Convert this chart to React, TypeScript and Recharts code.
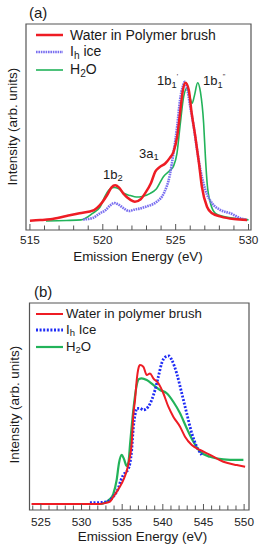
import React from 'react';
import { LineChart, Line, XAxis, YAxis, ReferenceArea } from 'recharts';

// panel (a): valence-band emission, pairs of [energy eV, intensity]
const aBrush = [
  [515.0, 4.5], [515.7, 4.8], [516.4, 5.2], [517.5, 6.8], [518.4, 8.1], [519.4, 9.7], [519.8, 12.1],
  [520.3, 17.0], [520.6, 20.7], [520.85, 21.7], [521.1, 20.7], [521.4, 17.8], [521.9, 14.6], [522.2, 13.7],
  [522.6, 14.9], [522.9, 17.8], [523.3, 22.7], [523.6, 28.3], [523.9, 30.5], [524.3, 32.4], [524.6, 35.0],
  [524.85, 37.9], [525.1, 45.3], [525.3, 56.7], [525.5, 68.0], [525.67, 71.5], [525.9, 68.0], [526.1, 56.7],
  [526.35, 45.3], [526.6, 32.4], [526.8, 21.0], [527.15, 11.3], [527.5, 8.1], [528.1, 6.5], [529.0, 5.3], [529.9, 4.9],
];
const aIce = [
  [518.65, 5.1], [519.3, 5.8], [519.8, 8.1], [520.2, 9.7], [520.5, 11.9], [520.8, 13.1], [521.06, 12.4],
  [521.4, 10.7], [521.8, 9.2], [522.2, 10.0], [522.6, 10.5], [523.0, 11.4], [523.3, 12.1], [523.7, 13.7],
  [524.2, 18.0], [524.6, 26.7], [524.86, 37.9], [525.1, 50.1], [525.3, 63.1], [525.5, 69.9], [525.62, 72.0],
  [525.78, 68.9], [526.0, 59.9], [526.24, 50.1], [526.47, 38.8], [526.7, 29.1], [527.04, 19.4], [527.5, 13.0],
  [528.07, 9.7], [528.76, 8.1], [529.45, 5.7], [529.9, 4.9],
];
const aGas = [
  [516.1, 4.4], [517.5, 4.6], [518.5, 4.9], [519.3, 8.1], [519.8, 11.0], [520.2, 17.0], [520.5, 19.9],
  [520.78, 20.6], [521.06, 20.1], [521.47, 17.7], [521.9, 16.7], [522.3, 16.0], [522.7, 16.3], [523.26, 17.8],
  [523.67, 19.9], [524.17, 26.0], [524.63, 29.1], [524.86, 31.1], [525.09, 37.2], [525.32, 51.8], [525.55, 64.7],
  [525.78, 68.9], [525.94, 65.5], [526.13, 61.5], [526.28, 65.0], [526.51, 71.5], [526.7, 67.0], [526.92, 51.8],
  [527.04, 35.6], [527.16, 22.7], [527.39, 13.0], [527.73, 8.1], [528.3, 6.5], [529.45, 5.3], [530.0, 4.9],
];

// panel (b)
const bBrush = [
  [523.85, 2.9], [532.27, 2.9], [533.09, 3.5], [533.5, 4.0], [533.9, 6.3], [534.32, 8.7], [534.73, 11.3],
  [535.22, 15.2], [535.59, 19.3], [535.84, 23.7], [536.17, 32.2], [536.37, 45.9], [536.58, 53.1], [536.79, 62.8],
  [537.01, 68.6], [537.19, 70.0], [537.6, 69.2], [538.02, 65.2], [538.42, 66.0], [538.83, 63.6], [539.45, 61.2],
  [540.06, 56.4], [540.68, 49.9], [541.29, 45.1], [542.12, 40.2], [542.73, 35.4], [543.56, 31.4], [544.58, 29.0],
  [545.81, 26.6], [547.45, 23.3], [549.1, 21.7], [550.12, 20.9],
];
const bIce = [
  [531.03, 3.5], [532.27, 3.6], [533.09, 4.0], [533.5, 4.8], [533.9, 6.4], [534.52, 10.5], [534.85, 14.5],
  [535.14, 16.9], [535.47, 18.4], [535.75, 19.8], [535.96, 22.7], [536.17, 29.0], [536.37, 39.6], [536.58, 45.9],
  [536.82, 49.1], [537.19, 49.1], [537.6, 48.3], [538.21, 49.9], [538.63, 53.1], [539.04, 58.0], [539.45, 64.4],
  [539.86, 70.9], [540.27, 73.8], [540.76, 74.4], [541.1, 72.5], [541.71, 66.0], [542.33, 56.4], [542.94, 46.7],
  [543.56, 37.1], [544.17, 30.6], [544.79, 26.6],
];
const bGas = [
  [530.21, 2.9], [532.27, 2.9], [532.88, 3.5], [533.5, 5.3], [533.9, 7.7], [534.32, 14.5], [534.61, 22.7],
  [534.94, 26.6], [535.22, 24.6], [535.55, 21.3], [535.78, 23.2], [535.96, 31.4], [536.37, 48.3], [536.79, 60.4],
  [537.07, 63.3], [537.4, 63.6], [538.02, 62.8], [538.83, 60.4], [539.66, 58.0], [540.48, 56.4], [541.29, 52.3],
  [542.12, 46.7], [542.94, 39.5], [543.76, 33.0], [544.58, 28.2], [545.81, 25.7], [547.45, 24.5], [549.1, 24.2],
  [549.91, 24.2],
];

const aTicks = [515, 516, 517, 518, 519, 520, 521, 522, 523, 524, 525, 526, 527, 528, 529, 530];
const bTicks = [524, 525, 526, 527, 528, 529, 530, 531, 532, 533, 534, 535, 536, 537, 538, 539, 540, 541, 542, 543, 544, 545, 546, 547, 548, 549, 550];

const FONT = "'Liberation Sans', Arial, sans-serif";
const RED = '#ee1c24';
const GREEN = '#22b35a';
const ICE_A = '#7a6ff0';
const ICE_B = '#1f2cf5';
const FRAME = '#555';

const toPts = (arr: number[][]) => arr.map(([e, i]) => ({ e, i }));

function makeTick(labelDy: number) {
  return (props: any) => {
    const { x, y, payload } = props;
    const v = payload.value;
    const major = v % 5 === 0;
    return (
      <g>
        <line x1={x} y1={y} x2={x} y2={y - (major ? 6 : 4.5)} stroke={FRAME} strokeWidth={1} />
        {major && (
          <text x={x} y={y + labelDy} textAnchor="middle" fontSize={11.8} fill="#222" fontFamily={FONT}>
            {v}
          </text>
        )}
      </g>
    );
  };
}

const legendLine = (color: string, width: number, dash?: string) => (
  <svg width={27} height={14} style={{ display: 'block' }}>
    <line x1={0} y1={7} x2={27} y2={7} stroke={color} strokeWidth={width} strokeDasharray={dash} />
  </svg>
);

export default function App() {
  const abs: React.CSSProperties = { position: 'absolute', fontFamily: FONT, color: '#1a1a1a', whiteSpace: 'nowrap', lineHeight: 1 };
  const sub: React.CSSProperties = { fontSize: '0.72em', verticalAlign: '-0.25em' };

  return (
    <div style={{ position: 'absolute', left: 0, top: 0, width: 266, height: 550, background: '#fff' }}>
      {/* panel a */}
      <div style={{ position: 'absolute', left: 0, top: 0 }}>
        <LineChart width={266} height={270} margin={{ top: 24, right: 15, bottom: 0, left: 26 }}>
          <XAxis type="number" dataKey="e" domain={[514.73, 530.17]} ticks={aTicks} interval={0}
            allowDataOverflow axisLine={false} tickLine={false} tickSize={0} tickMargin={0} height={40}
            tick={makeTick(14)} />
          <YAxis type="number" domain={[0, 100]} hide allowDataOverflow />
          <Line data={toPts(aGas)} dataKey="i" type="monotone" stroke={GREEN} strokeWidth={1.6} dot={false} isAnimationActive={false} />
          <Line data={toPts(aIce)} dataKey="i" type="monotone" stroke={ICE_A} strokeWidth={2.6} strokeDasharray="1.6 0.8" dot={false} isAnimationActive={false} />
          <Line data={toPts(aBrush)} dataKey="i" type="monotone" stroke={RED} strokeWidth={2.5} dot={false} isAnimationActive={false} />
          <ReferenceArea x1={514.73} x2={530.17} y1={0} y2={100} fill="none" stroke={FRAME} strokeWidth={1.2} />
        </LineChart>
      </div>

      {/* panel b */}
      <div style={{ position: 'absolute', left: 0, top: 270 }}>
        <LineChart width={266} height={280} margin={{ top: 33, right: 17, bottom: 0, left: 29.5 }}>
          <XAxis type="number" dataKey="e" domain={[523.6, 550.6]} ticks={bTicks} interval={0}
            allowDataOverflow axisLine={false} tickLine={false} tickSize={0} tickMargin={0} height={40}
            tick={makeTick(15.5)} />
          <YAxis type="number" domain={[0, 100]} hide allowDataOverflow />
          <Line data={toPts(bGas)} dataKey="i" type="monotone" stroke={GREEN} strokeWidth={2.2} dot={false} isAnimationActive={false} />
          <Line data={toPts(bIce)} dataKey="i" type="monotone" stroke={ICE_B} strokeWidth={2.8} strokeDasharray="2 1.6" dot={false} isAnimationActive={false} />
          <Line data={toPts(bBrush)} dataKey="i" type="monotone" stroke={RED} strokeWidth={2} dot={false} isAnimationActive={false} />
          <ReferenceArea x1={523.6} x2={550.6} y1={0} y2={100} fill="none" stroke={FRAME} strokeWidth={1.2} />
        </LineChart>
      </div>

      {/* panel labels */}
      <div style={{ ...abs, left: 29, top: 5, fontSize: 15 }}>(a)</div>
      <div style={{ ...abs, left: 34, top: 284, fontSize: 15 }}>(b)</div>

      {/* legend a */}
      {[
        { y: 35, line: legendLine(RED, 2.5), text: <>Water in Polymer brush</> },
        { y: 52, line: legendLine(ICE_A, 2.6, '1.6 0.8'), text: <>I<span style={sub}>h</span> ice</> },
        { y: 70, line: legendLine(GREEN, 1.6), text: <>H<span style={sub}>2</span>O</> },
      ].map((r, k) => (
        <div key={k} style={{ ...abs, left: 36, top: r.y - 7, height: 14, display: 'flex', alignItems: 'center', fontSize: 14 }}>
          {r.line}
          <span style={{ marginLeft: 7 }}>{r.text}</span>
        </div>
      ))}

      {/* legend b */}
      {[
        { y: 314, line: legendLine(RED, 2), text: <>Water in polymer brush</> },
        { y: 330, line: legendLine(ICE_B, 2.8, '2 1.6'), text: <>I<span style={sub}>h</span> Ice</> },
        { y: 347, line: legendLine(GREEN, 2.2), text: <>H<span style={sub}>2</span>O</> },
      ].map((r, k) => (
        <div key={k} style={{ ...abs, left: 36, top: r.y - 7, height: 14, display: 'flex', alignItems: 'center', fontSize: 13.2 }}>
          {r.line}
          <span style={{ marginLeft: 3 }}>{r.text}</span>
        </div>
      ))}

      {/* peak annotations */}
      <div style={{ ...abs, left: 103, top: 168, fontSize: 13 }}>1b<span style={sub}>2</span></div>
      <div style={{ ...abs, left: 139, top: 147, fontSize: 13 }}>3a<span style={sub}>1</span></div>
      <div style={{ ...abs, left: 157, top: 73, fontSize: 13 }}>
        1b<span style={sub}>1</span><span style={{ fontSize: 7, verticalAlign: '0.9em', marginLeft: 0 }}>'</span>
      </div>
      <div style={{ ...abs, left: 203, top: 73, fontSize: 13 }}>
        1b<span style={sub}>1</span><span style={{ fontSize: 7, verticalAlign: '0.9em' }}>''</span>
      </div>

      {/* axis titles */}
      <div style={{ ...abs, left: 0, width: 276, top: 250, textAlign: 'center', fontSize: 13.4 }}>Emission Energy (eV)</div>
      <div style={{ ...abs, left: 0, width: 285, top: 530, textAlign: 'center', fontSize: 13.4 }}>Emission Energy (eV)</div>
      <div style={{ ...abs, left: 12.8 - 100, width: 200, top: 127 - 7, textAlign: 'center', fontSize: 13.4, transform: 'rotate(-90deg)' }}>
        Intensity (arb. units)
      </div>
      <div style={{ ...abs, left: 15 - 100, width: 200, top: 405 - 7, textAlign: 'center', fontSize: 13.4, transform: 'rotate(-90deg)' }}>
        Intensity (arb. units)
      </div>
    </div>
  );
}
